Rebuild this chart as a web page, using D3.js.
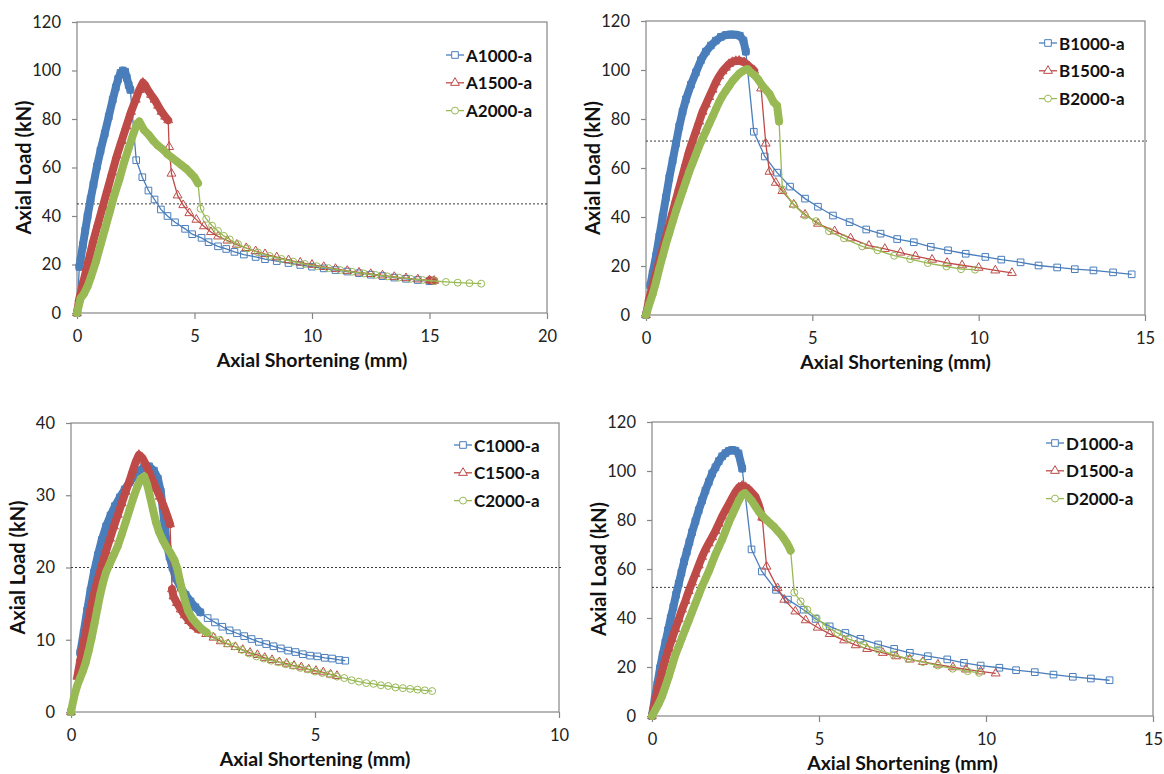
<!DOCTYPE html>
<html>
<head>
<meta charset="utf-8">
<script src="https://cdn.jsdelivr.net/npm/d3@7"></script>
<style>
  body { margin: 0; background: #fff; }
  svg { display: block; font-family: Lato, "Open Sans", sans-serif; }
</style>
</head>
<body>
<svg width="1164" height="774"></svg>
<script>
var namesA = ["A1000-a", "A1500-a", "A2000-a"];
var namesB = ["B1000-a", "B1500-a", "B2000-a"];
var namesC = ["C1000-a", "C1500-a", "C2000-a"];
var namesD = ["D1000-a", "D1500-a", "D2000-a"];

var ticks120 = [0, 20, 40, 60, 80, 100, 120];
var ticks40 = [0, 10, 20, 30, 40];
var ticksX20 = [0, 5, 10, 15, 20];
var ticksX15 = [0, 5, 10, 15];
var ticksX10 = [0, 5, 10];

// dotted reference loads
var refA = 45, refB = 71, refC = 20, refD = 52.5;

var A1000 = [[0,0],[0.1,19],[0.15,22],[0.25,28],[0.35,34],[0.45,40],[0.58,47],[0.7,53],[0.85,60.5],[1.0,67],[1.18,74],[1.35,81],[1.52,88],[1.65,93],[1.75,96.5],[1.85,99],[1.95,100],[2.05,99.5],[2.12,97],[2.2,94],[2.27,92],[2.52,63],[2.78,56],[3.04,50.5],[3.3,46.8],[3.57,42.7],[3.85,40],[4.17,37.4],[4.6,34.7],[4.9,32.5],[5.3,31],[5.6,29.2],[6.0,27.5],[6.35,26.4],[6.7,25.2],[7.1,24.1],[7.6,23.1],[8.0,22.2],[8.5,21.4],[9.0,20.6],[9.5,19.8],[10,19.1],[10.5,18.4],[11,17.7],[11.5,17.1],[12,16.4],[12.5,15.8],[13,15.2],[13.5,14.6],[14,14.1],[14.5,13.6],[15,13.1]];
var A1500 = [[0,0],[0.1,6],[0.3,14],[0.5,22],[0.7,30],[0.9,37],[1.1,44],[1.3,51],[1.5,58],[1.7,65],[1.9,71],[2.1,77],[2.3,83],[2.5,88],[2.65,92],[2.8,95],[2.9,94],[3.0,92.2],[3.15,90],[3.3,88],[3.45,85.5],[3.6,83],[3.75,81],[3.88,79.5],[3.92,68.5],[4.02,57.5],[4.28,48.5],[4.52,44.5],[4.78,41.2],[5.08,38.5],[5.4,35.8],[5.7,33.4],[6.0,31.6],[6.4,29.9],[6.8,28.2],[7.2,26.8],[7.6,25.5],[8.0,24.3],[8.5,23],[9.0,21.8],[9.5,20.8],[10,19.9],[10.5,19],[11,18.2],[11.5,17.4],[12,16.7],[12.5,16.1],[13,15.5],[13.5,14.9],[14,14.4],[14.5,13.9],[15,13.5],[15.2,13.3]];
var A2000 = [[0,0],[0.15,6],[0.3,8],[0.45,11],[0.6,15],[0.8,21],[1.0,28],[1.2,35],[1.4,42],[1.6,49],[1.8,55],[2.0,62],[2.2,68],[2.4,74],[2.55,78],[2.65,79],[2.85,75.5],[3.05,73.5],[3.25,71],[3.45,69],[3.65,67.5],[3.85,65.5],[4.05,64],[4.25,62.5],[4.45,61],[4.65,59.5],[4.85,57.5],[5.0,56],[5.15,53.5],[5.26,43],[5.5,38.8],[5.75,36],[6.0,33.8],[6.25,31.8],[6.5,30.3],[6.85,28.4],[7.25,26.6],[7.7,25],[8.2,23.5],[8.7,22.3],[9.2,21.2],[9.7,20.2],[10.2,19.3],[10.7,18.5],[11.2,17.7],[11.7,17],[12.2,16.3],[12.7,15.7],[13.2,15.1],[13.7,14.6],[14.2,14.1],[14.7,13.6],[15.2,13.2],[15.7,12.8],[16.2,12.5],[16.7,12.3],[17.2,12.1]];

var B1000 = [[0,0],[0.13,12],[0.2,17],[0.3,24],[0.4,32],[0.5,40],[0.6,48],[0.7,56],[0.8,63],[0.9,70],[1.0,77],[1.1,83],[1.2,88],[1.35,94],[1.5,99],[1.65,104],[1.8,107.5],[1.95,110],[2.1,112],[2.25,113.5],[2.4,114.3],[2.55,114.5],[2.7,114.4],[2.82,114],[2.93,112],[3.0,107.5],[3.24,74.8],[3.57,64.7],[3.94,58.1],[4.33,52.4],[4.78,47.5],[5.17,44.2],[5.62,40.6],[6.12,37.9],[6.62,34.9],[7.05,33.2],[7.55,31],[8.05,29.7],[8.56,27.8],[9.08,26.4],[9.61,25],[10.2,23.7],[10.68,22.6],[11.26,21.5],[11.8,20.2],[12.36,19.4],[12.89,18.7],[13.45,18.2],[14.04,17.4],[14.6,16.6]];
var B1500 = [[0,0],[0.1,7],[0.2,12],[0.3,17],[0.4,22],[0.5,27],[0.6,32],[0.7,37],[0.8,42],[0.9,47],[1.0,52],[1.1,57],[1.2,62],[1.3,67],[1.4,71],[1.5,75],[1.6,79],[1.7,83],[1.8,86],[1.9,89],[2.0,92],[2.1,95],[2.2,97.5],[2.3,99.5],[2.4,101],[2.5,102.5],[2.6,103.3],[2.7,103.7],[2.8,103.8],[2.95,103.2],[3.1,101.5],[3.25,99.8],[3.46,92.5],[3.6,70],[3.71,58.5],[3.9,54],[4.1,50.6],[4.44,45.1],[4.78,41],[5.17,37.3],[5.67,34.2],[6.15,31.3],[6.7,28.3],[7.18,27],[7.65,25.5],[8.1,24],[8.6,22.6],[9.05,21.3],[9.5,20.3],[10.0,19.3],[10.5,18.2],[11.0,17.2]];
var B2000 = [[0,0],[0.1,4.5],[0.2,8.5],[0.3,13.5],[0.4,19],[0.5,24],[0.6,29],[0.7,33.5],[0.8,38],[0.9,42.5],[1.0,46.5],[1.1,50.5],[1.2,54.5],[1.3,58.5],[1.4,62],[1.5,65.5],[1.6,69],[1.7,72],[1.8,75],[1.9,78],[2.0,81],[2.1,84],[2.2,87],[2.3,89.5],[2.4,91.5],[2.5,93.5],[2.6,95.5],[2.7,97],[2.8,98.5],[2.9,99.5],[3.0,100.2],[3.06,100.3],[3.15,99],[3.27,97.8],[3.38,96],[3.49,93.7],[3.6,92],[3.71,90.3],[3.83,87],[3.94,85.5],[4.0,79],[4.1,51.3],[4.44,45],[4.78,40.6],[5.11,38.3],[5.5,34.2],[5.95,31.3],[6.5,28],[6.96,26.4],[7.46,24.2],[7.94,22.8],[8.47,21.2],[9.03,19.8],[9.47,18.7],[9.89,18.5]];

var C1000 = [[0,0],[0.19,8.2],[0.26,11],[0.33,14],[0.4,16.8],[0.47,19.3],[0.55,21.7],[0.63,23.8],[0.72,25.7],[0.81,27.2],[0.9,28.5],[1.0,29.7],[1.1,30.8],[1.2,31.8],[1.3,32.7],[1.4,33.4],[1.5,33.9],[1.6,34.0],[1.7,33.4],[1.78,32.3],[1.84,30.5],[1.88,28.2],[1.92,25.7],[1.96,23.4],[2.02,21.5],[2.08,20],[2.15,18.5],[2.25,17.2],[2.35,16.2],[2.45,15.3],[2.55,14.5],[2.65,13.8],[2.8,13],[2.95,12.4],[3.1,11.8],[3.25,11.3],[3.4,10.9],[3.55,10.5],[3.7,10.1],[3.85,9.7],[4.0,9.4],[4.15,9.1],[4.3,8.8],[4.45,8.5],[4.6,8.3],[4.75,8.0],[4.9,7.8],[5.05,7.7],[5.2,7.5],[5.35,7.4],[5.5,7.2],[5.62,7.1]];
var C1500 = [[0,0],[0.13,4.9],[0.2,7.5],[0.27,10],[0.34,12.3],[0.41,14.5],[0.48,16.6],[0.56,18.6],[0.64,20.5],[0.72,22.3],[0.8,24],[0.88,25.7],[0.96,27.3],[1.04,28.9],[1.12,30.5],[1.2,32],[1.27,33.5],[1.33,34.7],[1.39,35.6],[1.46,35.2],[1.53,34.3],[1.6,33.2],[1.67,32.1],[1.74,31],[1.82,29.8],[1.9,28.5],[1.97,27.2],[2.03,26],[2.07,17],[2.1,16],[2.17,15.1],[2.25,14.2],[2.33,13.4],[2.42,12.6],[2.52,11.9],[2.62,11.4],[2.77,10.8],[2.92,10.3],[3.07,9.8],[3.22,9.4],[3.37,9.0],[3.52,8.6],[3.67,8.2],[3.82,7.9],[3.97,7.5],[4.12,7.2],[4.27,6.9],[4.42,6.7],[4.57,6.4],[4.72,6.2],[4.87,5.9],[5.02,5.7],[5.17,5.5],[5.32,5.2],[5.45,5.0]];
var C2000 = [[0,0],[0.06,2],[0.12,3.5],[0.18,4.6],[0.24,5.6],[0.3,6.8],[0.36,8.4],[0.42,10.2],[0.48,12.2],[0.54,14.3],[0.6,16.3],[0.66,18],[0.72,19.4],[0.8,20.6],[0.88,21.8],[0.96,23],[1.04,24.6],[1.12,26.3],[1.2,28],[1.28,29.7],[1.36,31.2],[1.43,32.3],[1.5,32.6],[1.56,31.5],[1.62,29.8],[1.68,28],[1.74,26.3],[1.8,25],[1.88,23.8],[1.96,22.8],[2.04,22],[2.12,21],[2.18,19.8],[2.23,18.2],[2.28,16.8],[2.34,15.3],[2.4,14],[2.48,13],[2.58,12.2],[2.68,11.5],[2.78,11],[2.9,10.5],[3.05,10],[3.2,9.5],[3.35,9.1],[3.5,8.6],[3.65,8.1],[3.8,7.7],[3.95,7.4],[4.1,7.1],[4.25,6.9],[4.4,6.6],[4.55,6.4],[4.7,6.1],[4.85,5.9],[5.0,5.6],[5.15,5.4],[5.3,5.2],[5.45,4.9],[5.6,4.7],[5.75,4.4],[5.9,4.2],[6.05,4.0],[6.2,3.9],[6.35,3.7],[6.5,3.6],[6.65,3.4],[6.8,3.3],[6.95,3.2],[7.1,3.1],[7.25,3.0],[7.4,2.9]];

var D1000 = [[0,0],[0.08,6.8],[0.16,13],[0.24,19.5],[0.32,25],[0.4,30],[0.48,35],[0.56,40],[0.64,44.5],[0.72,49.5],[0.8,54],[0.88,58.5],[0.96,63],[1.04,67],[1.12,71],[1.2,75],[1.3,79.5],[1.4,84],[1.5,88],[1.6,92],[1.7,95.5],[1.8,99],[1.9,101.5],[2.0,104],[2.1,106],[2.2,107.3],[2.3,108.2],[2.4,108.6],[2.5,108.3],[2.59,107.2],[2.7,101],[2.98,68],[3.29,59],[3.71,51.5],[4.07,47.5],[4.54,43.4],[4.9,39.6],[5.32,36.6],[5.79,33.9],[6.24,31.5],[6.77,29.2],[7.25,27.4],[7.72,25.8],[8.26,24.4],[8.84,23.1],[9.34,21.7],[9.84,20.6],[10.4,19.7],[10.9,18.7],[11.46,17.9],[12.02,16.9],[12.6,16],[13.14,15.3],[13.7,14.6]];
var D1500 = [[0,0],[0.1,6.5],[0.2,12.5],[0.3,18],[0.4,23],[0.5,27.5],[0.6,31.5],[0.7,35.5],[0.8,39.5],[0.9,43.5],[1.0,47],[1.1,51],[1.2,54.5],[1.3,58],[1.4,61.5],[1.5,65],[1.6,68],[1.7,70.5],[1.8,73],[1.9,75.5],[2.0,78.5],[2.1,81.5],[2.2,84],[2.3,86.5],[2.4,89],[2.5,91.5],[2.6,93.3],[2.7,94],[2.8,93.5],[2.9,92.5],[3.0,91],[3.1,89.5],[3.2,86],[3.3,81],[3.43,61],[3.76,52.2],[3.96,47.5],[4.29,42.7],[4.6,39.1],[4.96,36.1],[5.32,33.5],[5.75,30.9],[6.1,28.9],[6.44,27.4],[6.91,25.8],[7.31,24.4],[7.72,23.1],[8.11,22.1],[8.56,21],[9.01,19.9],[9.4,19],[9.84,18.2],[10.29,17.4]];
var D2000 = [[0,0],[0.1,2.5],[0.2,5],[0.3,8],[0.4,12],[0.5,16],[0.6,20.5],[0.7,25],[0.8,28.5],[0.9,32],[1.0,35.5],[1.1,39],[1.2,42.5],[1.3,46],[1.4,49.5],[1.5,53],[1.6,56],[1.7,59],[1.8,62.5],[1.9,66],[2.0,69],[2.1,72],[2.2,75.5],[2.3,79],[2.4,82],[2.5,85],[2.6,88],[2.7,90.3],[2.78,91],[2.88,89.5],[2.98,88],[3.09,85.7],[3.2,83.4],[3.31,81.7],[3.43,80],[3.54,78.6],[3.65,77.3],[3.76,75.6],[3.87,73.9],[3.96,72.2],[4.04,70.5],[4.1,69],[4.15,67.5],[4.26,50.4],[4.45,46.8],[4.65,43.4],[4.93,40],[5.21,36.6],[5.55,33.9],[5.88,31.5],[6.33,29.2],[6.77,27.1],[7.22,25.1],[7.67,23.3],[8.11,22],[8.56,20.6],[9.0,19.3],[9.45,18.3],[9.79,17.6]];

// ---- layout ----
var colors = ["#4A7EBB", "#BE4B48", "#98B954"];
var shapes = [d3.symbolSquare, d3.symbolTriangle, d3.symbolCircle];
var shapeSize = [44, 34, 38];
var frameColor = "#868686";

var panels = [
  { names: namesA, series: [A1000, A1500, A2000], xMax: 20, yMax: 120, xt: ticksX20, yt: ticks120, ref: refA,
    l: 77, t: 22, r: 547, b: 313, lx: 446, ly: 55 },
  { names: namesB, series: [B1000, B1500, B2000], xMax: 15, yMax: 120, xt: ticksX15, yt: ticks120, ref: refB,
    l: 646, t: 21, r: 1145, b: 315, lx: 1039, ly: 43 },
  { names: namesC, series: [C1000, C1500, C2000], xMax: 10, yMax: 40, xt: ticksX10, yt: ticks40, ref: refC,
    l: 71, t: 423, r: 559, b: 712, lx: 454, ly: 445 },
  { names: namesD, series: [D1000, D1500, D2000], xMax: 15, yMax: 120, xt: ticksX15, yt: ticks120, ref: refD,
    l: 652, t: 422, r: 1153, b: 716, lx: 1046, ly: 443 }
];

var svg = d3.select("svg");

panels.forEach(function(p) {
  var g = svg.append("g");
  var x = d3.scaleLinear().domain([0, p.xMax]).range([p.l, p.r]);
  var y = d3.scaleLinear().domain([0, p.yMax]).range([p.b, p.t]);

  // plot frame
  g.append("rect")
    .attr("x", p.l).attr("y", p.t)
    .attr("width", p.r - p.l).attr("height", p.b - p.t)
    .attr("fill", "none").attr("stroke", frameColor).attr("stroke-width", 1.2);

  var ya = g.append("g")
    .attr("transform", "translate(" + p.l + ",0)")
    .call(d3.axisLeft(y).tickValues(p.yt).tickSize(5).tickSizeOuter(0).tickPadding(11));
  var xa = g.append("g")
    .attr("transform", "translate(0," + p.b + ")")
    .call(d3.axisBottom(x).tickValues(p.xt).tickSize(6).tickSizeOuter(0).tickPadding(11));
  [ya, xa].forEach(function(a) {
    a.select(".domain").remove();
    a.selectAll("line").attr("stroke", frameColor).attr("stroke-width", 1.2);
    a.selectAll("text").attr("font-size", "16.5px").attr("fill", "#222")
      .attr("font-family", "Lato, 'Open Sans', sans-serif");
  });

  // dotted reference load
  g.append("line")
    .attr("x1", p.l).attr("x2", p.r + 2)
    .attr("y1", y(p.ref)).attr("y2", y(p.ref))
    .attr("stroke", "#3a3a3a").attr("stroke-width", 1).attr("stroke-dasharray", "2,2");

  // axis titles
  g.append("text")
    .attr("transform", "translate(" + (p.l - 54) + "," + ((p.t + p.b) / 2) + ") rotate(-90)")
    .attr("text-anchor", "middle").attr("dominant-baseline", "central")
    .attr("font-size", "20px").attr("font-weight", "bold").attr("fill", "#111")
    .text("Axial Load (kN)");
  g.append("text")
    .attr("x", (p.l + p.r) / 2).attr("y", p.b + 54)
    .attr("text-anchor", "middle")
    .attr("font-size", "19.5px").attr("font-weight", "bold").attr("fill", "#111")
    .text("Axial Shortening (mm)");

  var line = d3.line().x(function(d) { return x(d[0]); }).y(function(d) { return y(d[1]); });

  p.series.forEach(function(data, s) {
    var c = colors[s];
    // where the logged points crowd together the markers merge into a solid band
    var runs = [], cur = null;
    for (var i = 1; i < data.length; i++) {
      var dx = Math.abs(x(data[i][0]) - x(data[i - 1][0]));
      var dy = Math.abs(y(data[i][1]) - y(data[i - 1][1]));
      if (dx <= 5.5 && dy <= 24) {
        if (!cur) { cur = [data[i - 1]]; runs.push(cur); }
        cur.push(data[i]);
      } else {
        cur = null;
      }
    }
    g.selectAll(null).data(runs).enter().append("path")
      .attr("d", line)
      .attr("fill", "none").attr("stroke", c).attr("stroke-width", 8)
      .attr("stroke-linejoin", "round").attr("stroke-linecap", "round");

    g.append("path").datum(data)
      .attr("d", line)
      .attr("fill", "none").attr("stroke", c).attr("stroke-width", 1.3);

    g.selectAll(null).data(data).enter().append("path")
      .attr("transform", function(d) { return "translate(" + x(d[0]) + "," + y(d[1]) + ")"; })
      .attr("d", d3.symbol().type(shapes[s]).size(shapeSize[s]))
      .attr("fill", "none").attr("stroke", c).attr("stroke-width", 1);
  });

  // legend
  var leg = g.selectAll(".leg").data(p.names).enter().append("g")
    .attr("transform", function(d, i) { return "translate(" + p.lx + "," + (p.ly + i * 27.8) + ")"; });
  leg.append("line")
    .attr("x1", 0).attr("x2", 18).attr("y1", 0).attr("y2", 0)
    .attr("stroke", function(d, i) { return colors[i]; }).attr("stroke-width", 1.3);
  leg.append("path")
    .attr("transform", "translate(9,0)")
    .attr("d", function(d, i) { return d3.symbol().type(shapes[i]).size(shapeSize[i])(); })
    .attr("fill", "#fff").attr("stroke", function(d, i) { return colors[i]; });
  leg.append("text")
    .attr("x", 20).attr("y", 0).attr("dominant-baseline", "central")
    .attr("font-size", "17px").attr("font-weight", "bold").attr("fill", "#111")
    .text(function(d) { return d; });
});
</script>
</body>
</html>
